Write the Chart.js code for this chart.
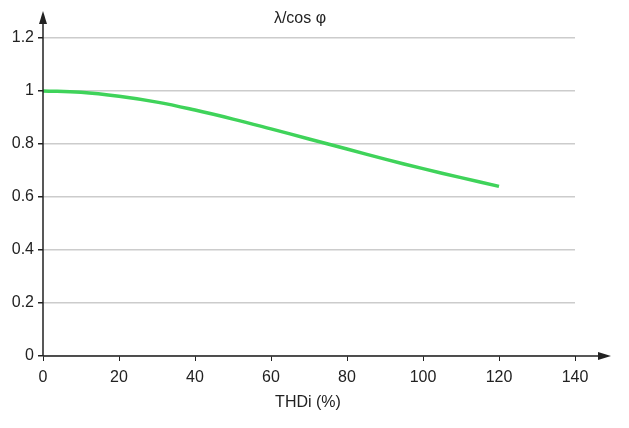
<!DOCTYPE html>
<html>
<head>
<meta charset="utf-8">
<script src="https://cdn.jsdelivr.net/npm/chart.js@4"></script>
<style>
  html, body { margin: 0; padding: 0; background: #fff; }
  #wrap { width: 629px; height: 428px; }
</style>
</head>
<body>
<div id="wrap"><canvas id="myChart" width="629" height="428"></canvas></div>
<script>
// values
var thdi = [0, 10, 20, 30, 40, 50, 60, 70, 80, 90, 100, 110, 120];
var ratio = [1.0, 0.995, 0.98, 0.958, 0.928, 0.894, 0.857, 0.819, 0.781, 0.743, 0.707, 0.673, 0.640];
var xTicks = [0, 20, 40, 60, 80, 100, 120, 140];
var yTicks = [0, 0.2, 0.4, 0.6, 0.8, 1, 1.2];
var yTitle = 'λ/cos φ';
var xTitle = 'THDi (%)';

var points = thdi.map(function (x, i) { return { x: x, y: ratio[i] }; });

// draws the black axes with arrow heads and the two axis titles
var axesPlugin = {
    id: 'axes',
    afterDraw: function (chart) {
        var ctx = chart.ctx;
        var x0 = chart.scales.x.getPixelForValue(0);
        var y0 = chart.scales.y.getPixelForValue(0);
        ctx.save();
        ctx.strokeStyle = '#222';
        ctx.fillStyle = '#222';
        ctx.lineWidth = 1.5;
        ctx.beginPath();
        ctx.moveTo(x0, y0);
        ctx.lineTo(x0, 20);
        ctx.moveTo(x0, y0);
        ctx.lineTo(602, y0);
        ctx.stroke();
        // arrow up
        ctx.beginPath();
        ctx.moveTo(x0, 11);
        ctx.lineTo(x0 - 4, 24);
        ctx.lineTo(x0 + 4, 24);
        ctx.closePath();
        ctx.fill();
        // arrow right
        ctx.beginPath();
        ctx.moveTo(611, y0);
        ctx.lineTo(598, y0 - 4);
        ctx.lineTo(598, y0 + 4);
        ctx.closePath();
        ctx.fill();

        ctx.fillStyle = '#222';
        ctx.font = '16px "Liberation Sans", Arial, sans-serif';
        ctx.textAlign = 'center';
        ctx.textBaseline = 'middle';
        ctx.fillText(yTitle, 300, 19);
        ctx.fillText(xTitle, 308, 403);
        ctx.restore();
    }
};

var ctx = document.getElementById('myChart').getContext('2d');
var chart = new Chart(ctx, {
    type: 'line',
    data: {
        datasets: [{
            data: points,
            borderColor: '#3fd35a',
            borderWidth: 3.5,
            pointRadius: 0,
            tension: 0.4,
            fill: false
        }]
    },
    options: {
        responsive: false,
        animation: false,
        layout: { padding: { top: 38, right: 54, left: 0, bottom: 0 } },
        plugins: {
            legend: { display: false },
            tooltip: { enabled: false }
        },
        scales: {
            x: {
                type: 'linear',
                min: 0,
                max: 140,
                border: { display: false },
                grid: { color: 'transparent', tickColor: '#222', tickLength: 5, drawOnChartArea: false },
                afterBuildTicks: function (axis) {
                    axis.ticks = xTicks.map(function (v) { return { value: v }; });
                },
                ticks: {
                    color: '#222',
                    padding: 7,
                    font: { family: '"Liberation Sans", Arial, sans-serif', size: 16 }
                },
                afterFit: function (axis) { axis.height = 72; }
            },
            y: {
                min: 0,
                max: 1.2,
                border: { display: false },
                grid: { color: '#cccccc', lineWidth: 1.5, tickColor: '#222', tickLength: 5 },
                afterBuildTicks: function (axis) {
                    axis.ticks = yTicks.map(function (v) { return { value: v }; });
                },
                ticks: {
                    color: '#222',
                    padding: 4,
                    font: { family: '"Liberation Sans", Arial, sans-serif', size: 16 },
                    callback: function (v) { return String(Math.round(v * 10) / 10); }
                },
                afterFit: function (axis) { axis.width = 43; }
            }
        }
    },
    plugins: [axesPlugin]
});
</script>
</body>
</html>
